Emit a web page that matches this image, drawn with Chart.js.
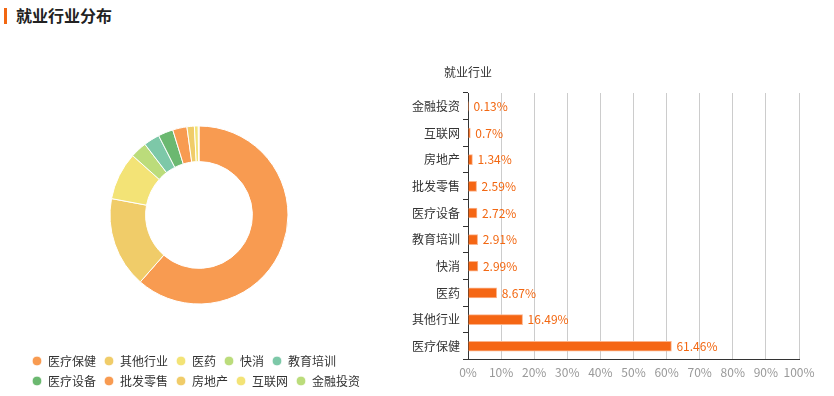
<!DOCTYPE html>
<html>
<head>
<meta charset="utf-8">
<script src="https://cdn.jsdelivr.net/npm/chart.js@4/dist/chart.umd.min.js"></script>
<style>
    html, body { margin: 0; padding: 0; background: #fff; }
    body { width: 834px; height: 396px; position: relative; overflow: hidden; font-family: "Noto Sans CJK SC", sans-serif; }
    .titulo-barra { position: absolute; left: 4px; top: 8px; width: 3px; height: 16px; background: #f26711; }
    .titulo { position: absolute; left: 16px; top: 3px; font-size: 16px; font-weight: bold; color: #222; line-height: 24px; }
    .box { position: absolute; }
</style>
</head>
<body>
<div class="titulo-barra"></div>
<div class="titulo">就业行业分布</div>
<div class="box" style="left:0;top:40px;width:374px;height:357px;"><canvas id="pizza"></canvas></div>
<div class="box" style="left:400px;top:40px;width:434px;height:356px;"><canvas id="barras"></canvas></div>

<script>
// ── Dados ──
const industrias = ['医疗保健','其他行业','医药','快消','教育培训','医疗设备','批发零售','房地产','互联网','金融投资'];
const percentuais = [61.46, 16.49, 8.67, 2.99, 2.91, 2.72, 2.59, 1.34, 0.7, 0.13];
const xTicks = [0, 10, 20, 30, 40, 50, 60, 70, 80, 90, 100];

const CORES = ['#f89b51','#f0cc69','#f3e376','#bbdc7b','#7dc8a8','#6bb870','#f89b51','#f0cc69','#f3e376','#bbdc7b'];
const LARANJA = '#f26711';

Chart.defaults.font.family = '"Noto Sans CJK SC", sans-serif';
Chart.defaults.font.size = 12;
Chart.defaults.animation = false;

// ── Doughnut ──
new Chart(document.getElementById('pizza'), {
    type: 'doughnut',
    data: {
        labels: industrias,
        datasets: [{
            data: percentuais,
            backgroundColor: CORES,
            borderColor: '#fff',
            borderWidth: 1,
        }]
    },
    options: {
        responsive: true,
        maintainAspectRatio: false,
        radius: 89,
        cutout: '60%',
        layout: { padding: { left: 24, right: 0, top: 43, bottom: 0 } },
        plugins: {
            legend: {
                position: 'bottom',
                align: 'start',
                labels: {
                    usePointStyle: true,
                    pointStyle: 'circle',
                    boxWidth: 10,
                    boxHeight: 7,
                    padding: 8,
                    color: '#333',
                    font: { size: 12 }
                }
            },
            tooltip: { enabled: false }
        }
    }
});

// ── Barras horizontais ──
const barLabels = industrias.slice().reverse();
const barValores = percentuais.slice().reverse();

const rotulosBarra = {
    id: 'rotulosBarra',
    afterDatasetsDraw(chart) {
        const ctx = chart.ctx;
        const meta = chart.getDatasetMeta(0);
        ctx.save();
        ctx.font = '12px "Noto Sans CJK SC", sans-serif';
        ctx.fillStyle = LARANJA;
        ctx.textAlign = 'left';
        ctx.textBaseline = 'middle';
        meta.data.forEach((bar, i) => {
            ctx.fillText(barValores[i] + '%', bar.x + 5, bar.y);
        });
        // nome do eixo
        ctx.fillStyle = '#333';
        ctx.textAlign = 'center';
        ctx.fillText('就业行业', chart.scales.y.right, chart.chartArea.top - 21);
        ctx.restore();
    }
};

new Chart(document.getElementById('barras'), {
    type: 'bar',
    data: {
        labels: barLabels,
        datasets: [{
            data: barValores,
            backgroundColor: '#f56614',
            borderColor: '#fbb48c',
            borderWidth: 1,
            barThickness: 10,
        }]
    },
    options: {
        indexAxis: 'y',
        responsive: true,
        maintainAspectRatio: false,
        layout: { padding: { left: 9, right: 35, top: 53, bottom: 10 } },
        plugins: {
            legend: { display: false },
            tooltip: { enabled: false }
        },
        scales: {
            x: {
                min: xTicks[0],
                max: xTicks[xTicks.length - 1],
                afterBuildTicks: (s) => { s.ticks = xTicks.map(v => ({ value: v })); },
                grid: { color: '#ccc', drawTicks: false },
                border: { color: '#333' },
                ticks: { color: '#999', padding: 6, maxRotation: 0, minRotation: 0, autoSkip: false, callback: v => v + '%' }
            },
            y: {
                grid: { drawOnChartArea: false, drawTicks: true, tickLength: 5, color: '#333', offset: true },
                border: { color: '#333' },
                ticks: { color: '#333', padding: 3 }
            }
        }
    },
    plugins: [rotulosBarra]
});
</script>
</body>
</html>
